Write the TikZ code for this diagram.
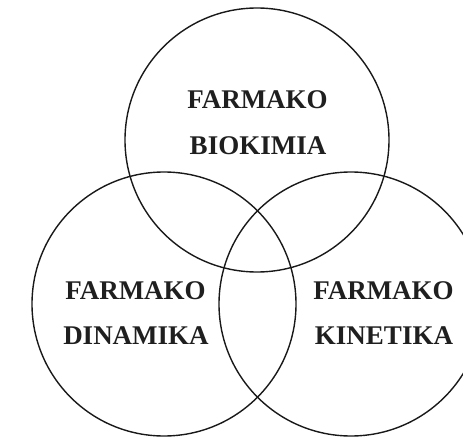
\documentclass[tikz,border=0pt]{standalone}
\usepackage{fontspec}
\setmainfont{Liberation Serif}
\begin{document}
\begin{tikzpicture}[x=1pt,y=-1pt,
  ring/.style={circle,draw=black!90,line width=1.4pt,minimum size=264pt,inner sep=0pt},
  lbl/.style={anchor=base,inner sep=0pt,font=\fontsize{27}{31}\selectfont\bfseries,text=black!88}]
\useasboundingbox (0,0) rectangle (463,439);
\node[ring] (bio) at (257,140) {};
\node[ring] (din) at (164,304) {};
\node[ring] (kin) at (351,304) {};
\node[lbl] (b1) at (257.5,108.7) {FARMAKO};
\node[lbl] (b2) at (258,154) {BIOKIMIA};
\node[lbl] (d1) at (135.5,299) {FARMAKO};
\node[lbl] (d2) at (136,344) {DINAMIKA};
\node[lbl] (k1) at (383.5,299) {FARMAKO};
\node[lbl] (k2) at (384,344) {KINETIKA};
\end{tikzpicture}
\end{document}
